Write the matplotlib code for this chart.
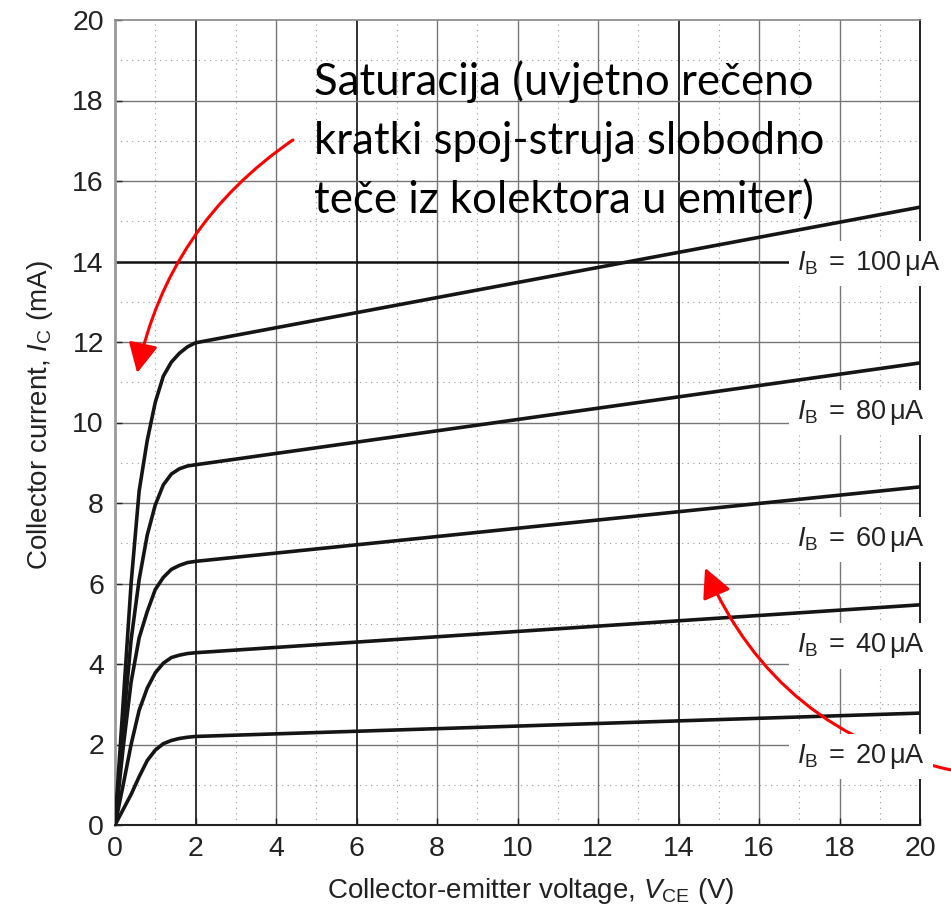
import matplotlib.pyplot as plt

plt.rcParams['font.family'] = 'Liberation Sans'
plt.rcParams['mathtext.fontset'] = 'custom'
plt.rcParams['mathtext.rm'] = 'Liberation Sans'
plt.rcParams['mathtext.it'] = 'Liberation Sans:italic'

# output characteristics (V_CE in V, I_C in mA)
vce = [0, 0.2, 0.4, 0.6, 0.8, 1.0, 1.2, 1.4, 1.6, 1.8, 2.0, 20]
ib = [100, 80, 60, 40, 20]
ic_100 = [0, 3.0, 6.0, 8.3, 9.55, 10.5, 11.15, 11.5, 11.72, 11.88, 11.98, 15.35]
ic_80 = [0, 2.4, 4.6, 6.1, 7.2, 7.95, 8.45, 8.72, 8.85, 8.92, 8.95, 11.48]
ic_60 = [0, 1.9, 3.55, 4.65, 5.3, 5.85, 6.15, 6.35, 6.45, 6.52, 6.55, 8.40]
ic_40 = [0, 0.98, 2.0, 2.85, 3.4, 3.78, 4.02, 4.16, 4.22, 4.26, 4.28, 5.47]
ic_20 = [0, 0.38, 0.76, 1.2, 1.6, 1.86, 2.02, 2.1, 2.15, 2.18, 2.2, 2.78]
curves = [ic_100, ic_80, ic_60, ic_40, ic_20]
label_y = [13.95, 10.25, 7.1, 4.45, 1.7]

note = 'Saturacija (uvjetno rečeno\nkratki spoj-struja slobodno\nteče iz kolektora u emiter)'

fig = plt.figure(figsize=(9.51, 9.11), dpi=100)
ax = fig.add_axes([115 / 951, 86 / 911, 805 / 951, 805 / 911])

# grid: solid every 2, sparse dots on the odd values
for v in range(1, 20, 2):
    ax.axvline(v, color='#999999', lw=0.8, ls=(0, (1, 4)), zorder=1)
    ax.axhline(v, color='#999999', lw=0.8, ls=(0, (1, 4)), zorder=1)
for v in range(2, 20, 2):
    dark = v in (2, 6, 14)
    ax.axvline(v, color='#222222' if dark else '#777777', lw=1.3 if dark else 1.0, zorder=1)
    ax.axhline(v, color='#111111' if v == 14 else '#777777', lw=1.8 if v == 14 else 1.0, zorder=1)

for ic in curves:
    ax.plot(vce, ic, color='#151515', lw=2.6, zorder=3)

for v, y in zip(ib, label_y):
    ax.text(16.94, y, '$I_\\mathrm{B}\\;=\\;%d\\,\\mathrm{μA}$' % v, fontsize=19.5,
            va='center', ha='left', color='#222222', zorder=5, clip_on=False,
            bbox=dict(boxstyle='square,pad=0.3', fc='white', ec='none'))

# va='baseline' anchors the last line here
ax.text(4.94, 15.2, note, fontsize=31.5, family='Lato', va='baseline',
        ha='left', linespacing=1.55, zorder=4)

arrow = dict(arrowstyle='-|>,head_length=0.9,head_width=0.45', color='red',
             lw=2.2, mutation_scale=20, shrinkA=0, shrinkB=0)
ax.annotate('', xy=(0.55, 11.23), xytext=(4.42, 17.02), annotation_clip=False,
            arrowprops=dict(arrow, connectionstyle='arc3,rad=0.2'))
ax.annotate('', xy=(14.66, 6.39), xytext=(20.85, 1.35), annotation_clip=False,
            arrowprops=dict(arrow, connectionstyle='arc3,rad=-0.26'))

ax.set_xlim(0, 20)
ax.set_ylim(0, 20)
ax.set_xticks(range(0, 21, 2))
ax.set_yticks(range(0, 21, 2))
ax.tick_params(direction='in', length=5, width=1, labelsize=20.5, pad=8,
               colors='#222222')

ax.spines['left'].set(color='#999999', lw=2)
ax.spines['top'].set(color='#888888', lw=1.2)
ax.spines['right'].set(color='#111111', lw=1.3)
ax.spines['bottom'].set(color='#222222', lw=1.5)

ax.set_xlabel('Collector-emitter voltage, $V_\\mathrm{CE}$ (V)', fontsize=20, color='#222222')
ax.set_ylabel('Collector current, $I_\\mathrm{C}$ (mA)', fontsize=20, color='#222222')
ax.xaxis.set_label_coords(0.517, -0.063)
ax.yaxis.set_label_coords(-0.0745, 0.509)

fig.savefig('out.png', dpi=100)
